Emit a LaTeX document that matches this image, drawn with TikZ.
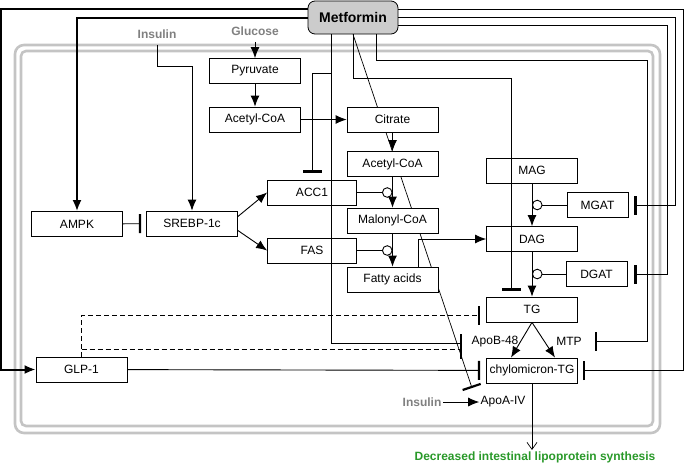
\documentclass[tikz,border=0pt]{standalone}
\usepackage{fontspec}
\setmainfont{Liberation Sans}
\usetikzlibrary{arrows.meta, positioning, calc}

\definecolor{lipogreen}{RGB}{41,153,41}
\definecolor{signalgray}{RGB}{128,128,128}
\definecolor{wallgray}{RGB}{196,196,196}
\definecolor{drugfill}{RGB}{204,204,204}

\tikzset{
  box/.style={draw, fill=white, line width=0.8pt, minimum width=91pt, minimum height=25pt,
    inner sep=0pt, font=\fontsize{12}{14}\selectfont},
  enzbox/.style={box, minimum width=61pt},
  drug/.style={draw, fill=drugfill, line width=0.8pt, rounded corners=7pt, minimum width=90pt,
    minimum height=33pt, inner sep=0pt, font=\bfseries\fontsize{14}{16}\selectfont},
  signal/.style={inner sep=1pt, text=signalgray, font=\bfseries\fontsize{12}{14}\selectfont},
  plain/.style={inner sep=1pt, font=\fontsize{12}{14}\selectfont},
  wall/.style={draw=wallgray, line width=2.6pt},
  act/.style={-{Latex[length=11pt,width=9pt]}},
  inh/.style={-{Bar[width=19pt,line width=2.2pt]}},
  cat/.style={-{Circle[open,length=10.5pt]}},
  dashline/.style={dash pattern=on 5pt off 3pt},
}

\begin{document}
\begin{tikzpicture}[x=1pt, y=-1pt, line width=0.9pt]
  \useasboundingbox (0,0) rectangle (685,464);

  % enterocyte membrane
  \draw[wall, rounded corners=9pt] (15,45) rectangle (660,433);
  \draw[wall, rounded corners=5pt] (21,51) rectangle (653,426);

  % drug and its long inhibition on ApoA-IV (behind the boxes)
  \node[drug] (met) at (353,17.5) {Metformin};
  \coordinate (apoabar) at (472,388);
  \draw[inh, line width=0.7pt] (met.south) -- (apoabar);

  % boxes
  \node[box] (pyr) at (255,71) {Pyruvate};
  \node[box] (acoa1) at (255,119.5) {Acetyl-CoA};
  \node[box] (cit) at (392.5,119.5) {Citrate};
  \node[box] (acoa2) at (392.5,164) {Acetyl-CoA};
  \node[box] (mal) at (392.5,220.5) {Malonyl-CoA};
  \node[box] (fa) at (392.5,279.5) {Fatty acids};
  \node[box, minimum width=89pt] (acc) at (312,192.5) {ACC1};
  \node[box, minimum width=89pt] (fas) at (312,250.5) {FAS};
  \node[box] (ampk) at (77,224) {AMPK};
  \node[box] (srebp) at (192,223.5) {SREBP-1c};
  \node[box] (glp) at (81.5,369.5) {GLP-1};
  \node[box] (mag) at (532,170.5) {MAG};
  \node[box] (dag) at (532,239) {DAG};
  \node[enzbox] (mgat) at (597.5,205) {MGAT};
  \node[enzbox] (dgat) at (596.5,274) {DGAT};
  \node[box] (tg) at (532,309.5) {TG};
  \node[box] (chy) at (532,370.5) {chylomicron-TG};

  % labels
  \node[signal] (glu) at (255,31) {Glucose};
  \node[signal] (ins) at (157,34) {Insulin};
  \node[signal] (ins2) at (422,402) {Insulin};
  \node[plain] (apoa) at (503,402) {ApoA-IV};
  \node[plain] (apob) at (495,342) {ApoB-48};
  \node[plain] (mtp) at (569,341) {MTP};
  \node[inner sep=1pt, text=lipogreen, font=\bfseries\fontsize{12}{14}\selectfont] (out) at (535,457)
    {Decreased intestinal lipoprotein synthesis};

  % free ends
  \coordinate (mtpbar) at (595,341);
  \coordinate (apobbar) at (461,343);

  % metformin actions
  \draw[act, line width=2pt] (met.west |- 0,9) -| (1,0 |- glp.west) -- (glp.west);
  \draw[act, line width=2pt] (met.west) -| (ampk.north);
  \draw[inh, shorten >=5pt] (met.east |- 0,9) -| (683,0 |- chy.east) -- (chy.east);
  \draw[inh, shorten >=6pt] (met.east |- 0,17) -| (675,0 |- mgat.east) -- (mgat.east);
  \draw[inh, shorten >=7pt] (met.east |- 0,25) -| (667,0 |- dgat.east) -- (dgat.east);
  \draw[inh] (376,0 |- met.south) |- (647,60) |- (mtpbar);
  \draw[inh, shorten >=6pt] (met.south) |- (511,78) -- (511,0 |- tg.north);
  \draw (331,0 |- met.south) |- (apobbar);
  \draw[inh, shorten >=7pt] (331,73) -| (acc.north);
  \draw[line width=2.2pt] (461,334) -- (461,359);

  % lipogenesis
  \draw[act, shorten <=5pt] (glu.south) -- (pyr.north);
  \draw[act] (pyr) -- (acoa1);
  \draw[act] (acoa1) -- (cit);
  \draw[act] (cit) -- (acoa2);
  \draw[act] (acoa2) -- (mal);
  \draw[act] (mal) -- (fa);
  \draw[act, shorten <=5pt] (ins.south) |- (srebp.north |- 0,66) -- (srebp.north);
  \draw[inh, shorten >=5pt] (ampk) -- (srebp);
  \draw[act] ([yshift=7pt]srebp.east) -- (acc.west);
  \draw[act] ([yshift=-7pt]srebp.east) -- (fas.west);
  \draw[cat] (acc.east) -- (mal.north |- acc.east);
  \draw[cat] (fas.east) -- (fa.north |- fas.east);

  % TG synthesis and assembly
  \draw[act] (418,0 |- fa.north) |- (dag.west);
  \draw[act] (mag) -- (dag);
  \draw[act] (dag) -- (tg);
  \draw[cat] (mgat.west) -- (mag.south |- mgat.west);
  \draw[cat] (dgat.west) -- (dag.south |- dgat.west);
  \draw[act] (tg.south) -- ([xshift=-21pt]chy.north);
  \draw[act] (tg.south) -- ([xshift=23pt]chy.north);
  \draw[-{Straight Barb[length=7pt,width=10pt]}, line width=0.7pt] (chy.south) -- (chy.south |- out.north);
  \draw[act, line width=0.8pt] (ins2) -- (apoa);

  % GLP-1
  \draw[inh, shorten >=6pt] (glp) -- (chy);
  \draw[inh, dashline, shorten >=6pt] (glp.north) |- ([yshift=-6pt]tg.west);
  \draw[dashline] (glp.north |- 0,349) -- (apobbar |- 0,349);
\end{tikzpicture}
\end{document}
